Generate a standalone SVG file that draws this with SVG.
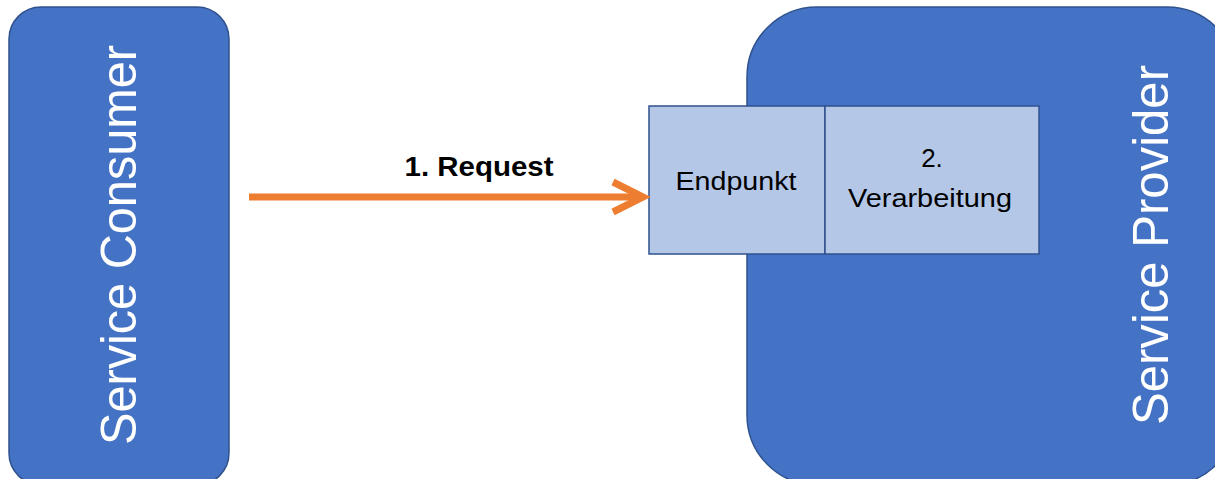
<svg xmlns="http://www.w3.org/2000/svg" width="1215" height="479" viewBox="0 0 1215 479">
<style>
.big{fill:#4472C4;stroke:#2F528F;stroke-width:1.5}
.box{fill:#B4C7E7;stroke:#2F528F;stroke-width:1.5}
.bigt{font-family:"Liberation Sans",Arial,sans-serif;font-size:50px;fill:#fff;text-anchor:middle}
.t{font-family:"Liberation Sans",Arial,sans-serif;font-size:26px;fill:#000;text-anchor:middle}
.conn{stroke:#ED7D31;stroke-width:7;fill:none}
</style>
<rect width="1215" height="479" fill="#fff"/>
<g id="consumer">
<rect class="big" x="9" y="7" width="220" height="478" rx="32" ry="32"/>
<text class="bigt" transform="translate(136,245) rotate(-90)" textLength="400" lengthAdjust="spacingAndGlyphs">Service Consumer</text>
</g>
<g id="provider">
<rect class="big" x="747" y="7" width="490" height="478" rx="70" ry="70"/>
<text class="bigt" transform="translate(1168,245) rotate(-90)" textLength="360" lengthAdjust="spacingAndGlyphs">Service Provider</text>
</g>
<g id="endpunkt">
<rect class="box" x="649" y="106" width="176" height="148"/>
<text class="t" x="736" y="190" textLength="121" lengthAdjust="spacingAndGlyphs">Endpunkt</text>
</g>
<g id="verarbeitung">
<rect class="box" x="825" y="106" width="214" height="148"/>
<text class="t" x="932" y="167">2.</text>
<text class="t" x="930" y="207" textLength="164" lengthAdjust="spacingAndGlyphs">Verarbeitung</text>
</g>
<g id="connectors">
<line class="conn" x1="249" y1="197" x2="642" y2="197"/>
<polyline class="conn" points="613,182 643,197 613,212" stroke-linejoin="miter"/>
<text x="479" y="176" font-family="'Liberation Sans',Arial,sans-serif" font-size="27" font-weight="bold" text-anchor="middle" textLength="149" lengthAdjust="spacingAndGlyphs">1. Request</text>
</g>
</svg>
